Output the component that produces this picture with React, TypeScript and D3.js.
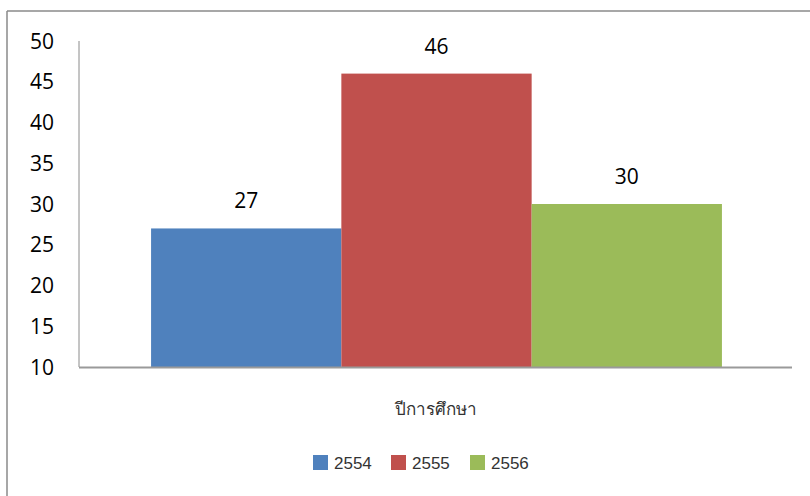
import React from "react";
import * as d3 from "d3";

const categories = ["ปีการศึกษา"];
const seriesNames = ["2554", "2555", "2556"];
const seriesValues = [27, 46, 30];
const seriesColors = ["#4f81bd", "#c0504d", "#9bbb59"];
const yTicks = [10, 15, 20, 25, 30, 35, 40, 45, 50];

export default function App() {
  const W = 810, H = 496;
  const left = 79, right = 792, top = 41, bottom = 367;
  const y = d3.scaleLinear().domain([10, 50]).range([bottom, top]);
  const x0 = d3.scaleBand().domain(categories).range([left + 1, right + 1]).paddingOuter(0.1245).paddingInner(0);
  const x1 = d3.scaleBand().domain(seriesNames).range([0, x0.bandwidth()]).padding(0);
  const font = "'Open Sans', Lato, sans-serif";
  const legendX = [313, 391, 470];
  return (
    <svg width={W} height={H} style={{ position: "absolute", left: 0, top: 0, background: "#fff" }}>
      <line x1={7} y1={11} x2={W} y2={11} stroke="#8a8a8a" strokeWidth={1.5} />
      <line x1={7} y1={11} x2={7} y2={H} stroke="#8a8a8a" strokeWidth={1.5} />
      {categories.map((c) =>
        seriesNames.map((s, i) => {
          const bx = (x0(c) as number) + (x1(s) as number);
          const v = seriesValues[i];
          return (
            <g key={s}>
              <rect x={bx} y={y(v)} width={x1.bandwidth()} height={y(10) - y(v)} fill={seriesColors[i]} />
              <text x={bx + x1.bandwidth() / 2} y={y(v) - 20} textAnchor="middle" fontFamily={font} fontSize={21} fill="#000">{v}</text>
            </g>
          );
        })
      )}
      <line x1={left} y1={top} x2={left} y2={bottom} stroke="#8a8a8a" strokeWidth={1} />
      <line x1={left} y1={bottom + 0.5} x2={right} y2={bottom + 0.5} stroke="#9a9a9a" strokeWidth={2} />
      {yTicks.map((t) => (
        <text key={t} x={54} y={y(t)} dy="0.36em" textAnchor="end" fontFamily={font} fontSize={21} fill="#000">{t}</text>
      ))}
      <text x={(left + right) / 2} y={415} textAnchor="middle" fontFamily="'Liberation Sans', Arial, sans-serif" fontSize={17} fill="#333">{categories[0]}</text>
      {seriesNames.map((s, i) => (
        <g key={s}>
          <rect x={legendX[i]} y={455} width={15} height={15} fill={seriesColors[i]} />
          <text x={legendX[i] + 21} y={469} fontFamily="'Liberation Sans', Arial, sans-serif" fontSize={17} fill="#333">{s}</text>
        </g>
      ))}
    </svg>
  );
}
